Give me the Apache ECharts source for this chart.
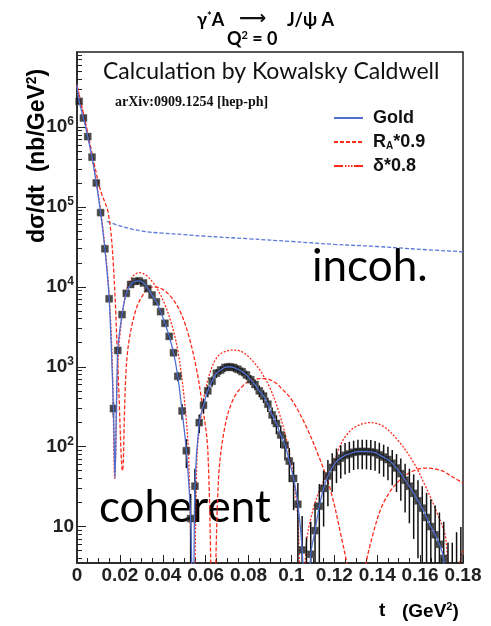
<!DOCTYPE html>
<html><head><meta charset="utf-8">
<script src="https://cdn.jsdelivr.net/npm/echarts@6/dist/echarts.min.js"></script>
<style>html,body{margin:0;padding:0;background:#fff}#c{width:491px;height:626px}</style>
</head><body><div id="c"></div>
<script>
// ---------- data ----------
const xTickValues = [0, 0.02, 0.04, 0.06, 0.08, 0.1, 0.12, 0.14, 0.16, 0.18];
const yDecades = [10, 100, 1000, 10000, 100000, 1000000];
const yMinorTicks = [4,5,6,7,8,9, 20,30,40,50,60,70,80,90, 200,300,400,500,600,700,800,900,
  2000,3000,4000,5000,6000,7000,8000,9000, 20000,30000,40000,50000,60000,70000,80000,90000,
  200000,300000,400000,500000,600000,700000,800000,900000, 2000000,3000000,4000000,5000000,6000000,7000000,8000000];

const dataT = [0.001,0.003,0.005,0.007,0.009,0.011,0.013,0.015,0.017,0.019,
  0.021,0.023,0.025,0.027,0.029,0.031,0.033,0.035,0.037,0.039,
  0.041,0.043,0.045,0.047,0.049,0.051,0.053,0.055,0.057,0.059,
  0.061,0.063,0.065,0.067,0.069,0.071,0.073,0.075,0.077,0.079,
  0.081,0.083,0.085,0.087,0.089,0.091,0.093,0.095,0.097,0.099,
  0.101,0.103,0.105,0.107,0.109,0.111,0.113,0.115,0.117,0.119,
  0.121,0.123,0.125,0.127,0.129,0.131,0.133,0.135,0.137,0.139,
  0.141,0.143,0.145,0.147,0.149,0.151,0.153,0.155,0.157,0.159,
  0.161,0.163,0.165,0.167,0.169,0.171,0.173,0.175,0.177,0.179];
const dataV = [2.1e6,1.3e6,7.6e5,4.2e5,2.0e5,8.5e4,3.0e4,7.1e3,300,1600,
  4500,8300,10700,11700,11900,11200,9500,7900,6500,4900,
  3500,2400,1500,760,280,89,12.6,32,200,330,
  500,660,830,910,980,1000,980,930,870,790,
  690,600,500,430,340,250,195,140,105,66,
  40,19,5.1,2.0,4.5,8.9,18,30,43,55,
  65,72,78,81,85,87,87,87,86,84,
  79,74,69,62,54,46,38,32,26,21,
  17,13,10,7.9,6.0,4.0,1.6,1.6,2.5,3.2];
const dataErr = [5400,4300,3300,2400,1700,1100,650,315,65,150,
  250,340,390,405,410,395,365,330,300,260,
  220,185,145,103,63,35,13,21,53,68,
  84,96,108,113,117,118,117,114,110,105,
  98,92,84,78,69,59,52,44,38,30,
  24,16,8.5,5.3,7,11,16,20,25,28,
  30,32,33,34,34,35,35,35,35,34,
  33,32,31,29,27,25,23,21,19,17,
  15,13.5,12,10.5,9,7.5,4.7,4.7,6,6.7];

const goldT = [0,0.001,0.003,0.005,0.007,0.009,0.011,0.013,0.015,0.017,0.0177,0.019,
  0.021,0.023,0.025,0.027,0.029,0.031,0.033,0.035,0.037,0.039,
  0.041,0.043,0.045,0.047,0.049,0.051,0.053,0.0542,0.055,0.057,0.059,
  0.061,0.063,0.065,0.067,0.069,0.071,0.073,0.075,0.077,0.079,
  0.081,0.083,0.085,0.087,0.089,0.091,0.093,0.095,0.097,0.099,
  0.101,0.103,0.105,0.107,0.109,0.111,0.113,0.115,0.117,0.119,
  0.121,0.123,0.125,0.127,0.129,0.131,0.133,0.135,0.137,0.139,
  0.141,0.143,0.145,0.147,0.149,0.151,0.153,0.155,0.157,0.159,
  0.161,0.163,0.165,0.167,0.169,0.171,0.1725,0.175,0.177,0.18];
const goldV = [3.35e6,2.1e6,1.3e6,7.6e5,4.2e5,2.0e5,8.5e4,3.0e4,7.1e3,300,40,1600,
  4500,8300,10700,11700,11900,11200,9500,7900,6500,4900,
  3500,2400,1500,760,280,89,12.6,0.3,32,200,330,
  500,660,830,910,980,1000,980,930,870,790,
  690,600,500,430,340,250,195,140,105,66,
  40,19,5.1,0.3,4.5,8.9,18,30,43,55,
  65,72,78,81,85,87,87,87,86,84,
  79,74,69,62,54,46,38,32,26,21,
  17,13,10,7.9,6.0,4.0,0.3,1.6,2.5,3.2];

const incohT = [0.014,0.02,0.03,0.04,0.05,0.06,0.08,0.10,0.12,0.14,0.16,0.18];
const incohV = [66000,58000,50000,47000,45000,43000,40000,37000,34000,32000,29500,27500];

const rT = [0,0.004,0.008,0.011,0.0146,0.017,0.0193,0.0212,0.0232,0.027,0.032,0.036,0.040,0.044,0.048,0.052,0.0555,0.058,0.061,0.0635,0.066,0.069,0.073,0.078,0.083,0.088,0.093,0.0947,0.100,0.106,0.112,0.118,0.123,0.1265,0.130,0.134,0.138,0.143,0.150,0.157,0.163,0.170,0.175,0.180];
const rV = [3.2e6,1.12e6,3.5e5,1.6e5,8.3e4,1.8e4,690,50,1200,4700,8900,10000,9300,7400,5000,2500,1000,400,90,0.3,40,180,400,600,700,710,620,560,390,200,85,30,8,2.5,0.1,2.5,8,20,37,50,54,50,42,35];

const dT = [0,0.005,0.010,0.013,0.015,0.0165,0.0176,0.0188,0.020,0.023,0.026,0.029,0.032,0.035,0.038,0.041,0.044,0.047,0.050,0.052,0.0543,0.056,0.058,0.060,0.063,0.066,0.070,0.074,0.078,0.082,0.086,0.090,0.094,0.098,0.101,0.103,0.105,0.107,0.110,0.113,0.116,0.1195,0.1225,0.1258,0.130,0.1367,0.143,0.150,0.157,0.1625,0.1678,0.172,0.1755,0.178,0.18];
const dV = [3.4e6,7.9e5,1.4e5,3.2e4,7900,1000,40,700,2500,8900,13500,15100,14100,11700,8900,6000,3500,1600,400,80,0.3,80,250,525,1000,1380,1580,1620,1480,1175,850,540,280,112,40,12.6,0.3,6.3,16,28,42,60,100,141,178,200,178,117,63,32,15,7,0.3,3,5];

// ---------- chart ----------
const zip = (a, b) => a.map((v, i) => [v, b[i]]);
const chart = echarts.init(document.getElementById('c'), null, {renderer: 'canvas'});
const RED = '#ff2a1a', BLUE = '#4f6fd0';
const sup = {fontSize: 12, fontWeight: 'bold', verticalAlign: 'top', padding: [0, 0, 10, 0], fontFamily: 'Liberation Sans', color: '#222'};
const hdrRich = {a: {fontFamily: 'Lato', fontWeight: 'bold', fontSize: 18, color: '#111'},
  s: {fontFamily: 'Lato', fontWeight: 'bold', fontSize: 11, color: '#111', padding: [0,0,8,0]}};
const axRich = (fs) => ({a: {fontFamily: 'Liberation Sans', fontWeight: 'bold', fontSize: fs, color: '#222'},
  s: {fontFamily: 'Liberation Sans', fontWeight: 'bold', fontSize: Math.round(fs * 0.6), color: '#222', padding: [0,0,Math.round(fs*0.5),0]}});
const yMin = 3.5, yMax = 8.7e6;

chart.setOption({
  animation: false,
  backgroundColor: '#fff',
  graphic: [
    {type: 'text', left: 197, top: 11, style: {text: '{a|γ}{s|*}{a|A}', rich: hdrRich}},
    {type: 'text', left: 239, top: 10, style: {text: '⟶', fontFamily: 'DejaVu Sans', fontWeight: 'bold', fontSize: 19, fill: '#111'}},
    {type: 'text', left: 287, top: 11, style: {text: '{a|J/ψ A}', rich: hdrRich}},
    {type: 'text', left: 227, top: 30, style: {text: '{a|Q}{s|2}{a| = 0}', rich: hdrRich}},
    {type: 'text', left: 103, top: 60, style: {text: 'Calculation by Kowalsky Caldwell', fontFamily: 'Lato', fontSize: 23, fill: '#111'}},
    {type: 'text', left: 115, top: 95, style: {text: 'arXiv:0909.1254 [hep-ph]', fontFamily: 'Liberation Serif', fontWeight: 'bold', fontSize: 14, fill: '#111'}},
    {type: 'text', left: 312, top: 245, style: {text: 'incoh.', fontFamily: 'Lato', fontSize: 44, fill: '#000'}},
    {type: 'text', left: 99, top: 486, style: {text: 'coherent', fontFamily: 'Lato', fontSize: 44, fill: '#000'}},
    {type: 'text', left: 379, top: 601, style: {text: '{a|t}', rich: axRich(19)}},
    {type: 'text', left: 402, top: 601, style: {text: '{a|(GeV}{s|2}{a|)}', rich: axRich(19)}},
    {type: 'text', x: 25, y: 243, rotation: Math.PI / 2, originX: 0, originY: 0,
      style: {text: '{a|dσ/dt  (nb/GeV}{s|2}{a|)}', rich: axRich(23)}}
  ],
  legend: {
    data: [{name: 'Gold'}, {name: 'R_A*0.9'}, {name: 'δ*0.8', lineStyle: {type: [9, 2, 1.5, 1.5, 1.5, 1.5, 1.5, 1.5]}}],
    orient: 'vertical', left: 328, top: 104,
    itemWidth: 29, itemHeight: 14, itemGap: 6,
    itemStyle: {opacity: 0},
    formatter: n => n === 'R_A*0.9' ? 'R{sub|A}*0.9' : n,
    textStyle: {fontFamily: 'Liberation Sans', fontWeight: 'bold', fontSize: 18, lineHeight: 18, color: '#111', padding: [0,0,0,5],
      rich: {sub: {fontFamily: 'Liberation Sans', fontWeight: 'bold', fontSize: 10, verticalAlign: 'bottom', padding: [7,0,0,0], color: '#111'}}}
  },
  grid: {left: 77, right: 28, top: 52, bottom: 63, show: true, borderColor: '#222', borderWidth: 1.5, backgroundColor: 'transparent'},
  xAxis: {
    type: 'value', min: 0, max: 0.18, interval: 0.02,
    axisLine: {show: true, lineStyle: {color: '#222', width: 1.5}},
    axisTick: {show: true, inside: true, length: 8, lineStyle: {color: '#222'}},
    minorTick: {show: true, splitNumber: 4, length: 5, lineStyle: {color: '#222'}},
    splitLine: {show: false},
    axisLabel: {margin: 3, color: '#222', fontFamily: 'Liberation Sans', fontWeight: 'bold', fontSize: 19,
      formatter: v => String(parseFloat(v.toFixed(3)))}
  },
  yAxis: [
    {type: 'log', logBase: 10, min: yMin, max: yMax,
      axisLine: {show: true, lineStyle: {color: '#222', width: 1.5}},
      axisTick: {show: true, inside: true, length: 9, customValues: yDecades, lineStyle: {color: '#222'}},
      splitLine: {show: false},
      axisLabel: {margin: 3, customValues: yDecades, color: '#222',
        formatter: v => { const e = Math.round(Math.log10(v)); return e === 1 ? '{b|10}' : '{b|10}{s|' + e + '}'; },
        rich: {b: {fontFamily: 'Liberation Sans', fontWeight: 'bold', fontSize: 19, color: '#222'}, s: sup}}},
    {type: 'log', logBase: 10, min: yMin, max: yMax, position: 'left',
      axisLine: {show: false}, splitLine: {show: false}, axisLabel: {show: false},
      axisTick: {show: true, inside: true, length: 5, customValues: yMinorTicks, lineStyle: {color: '#222'}}}
  ],
  series: [
    {name: 'incoh', type: 'line', data: zip(incohT, incohV), symbol: 'none', smooth: 0.4,
      lineStyle: {color: '#5a78d8', width: 1.3, type: [4, 2]}, z: 3},
    {name: 'R_A*0.9', type: 'line', data: zip(rT, rV), symbol: 'none', smooth: 0.35, clip: true,
      color: RED, lineStyle: {color: RED, width: 1.3, type: [4, 2]}, z: 4},
    {name: 'δ*0.8', type: 'line', data: zip(dT, dV), symbol: 'none', smooth: 0.35, clip: true,
      color: RED, lineStyle: {color: RED, width: 1.3, type: [2, 1.6]}, z: 4},
    {name: 'errors', type: 'custom', clip: true, z: 5,
      data: dataT.map((t, i) => [t, Math.max(dataV[i] - dataErr[i], 0.01), dataV[i] + dataErr[i]]),
      renderItem: (params, api) => {
        const a = api.coord([api.value(0), api.value(1)]);
        const b = api.coord([api.value(0), api.value(2)]);
        return {type: 'line', shape: {x1: a[0], y1: a[1], x2: b[0], y2: b[1]}, style: {stroke: '#111', lineWidth: 1.5}};
      }},
    {name: 'data', type: 'scatter', data: zip(dataT, dataV), symbol: 'rect', symbolSize: 7, clip: true,
      itemStyle: {color: '#1b1b1b', borderColor: '#444', borderWidth: 0.5}, z: 6},
    {name: 'Gold', type: 'line', data: zip(goldT, goldV), symbol: 'none', smooth: 0.3, clip: true,
      color: BLUE, lineStyle: {color: BLUE, width: 1.3}, z: 7}
  ]
});
</script></body></html>
